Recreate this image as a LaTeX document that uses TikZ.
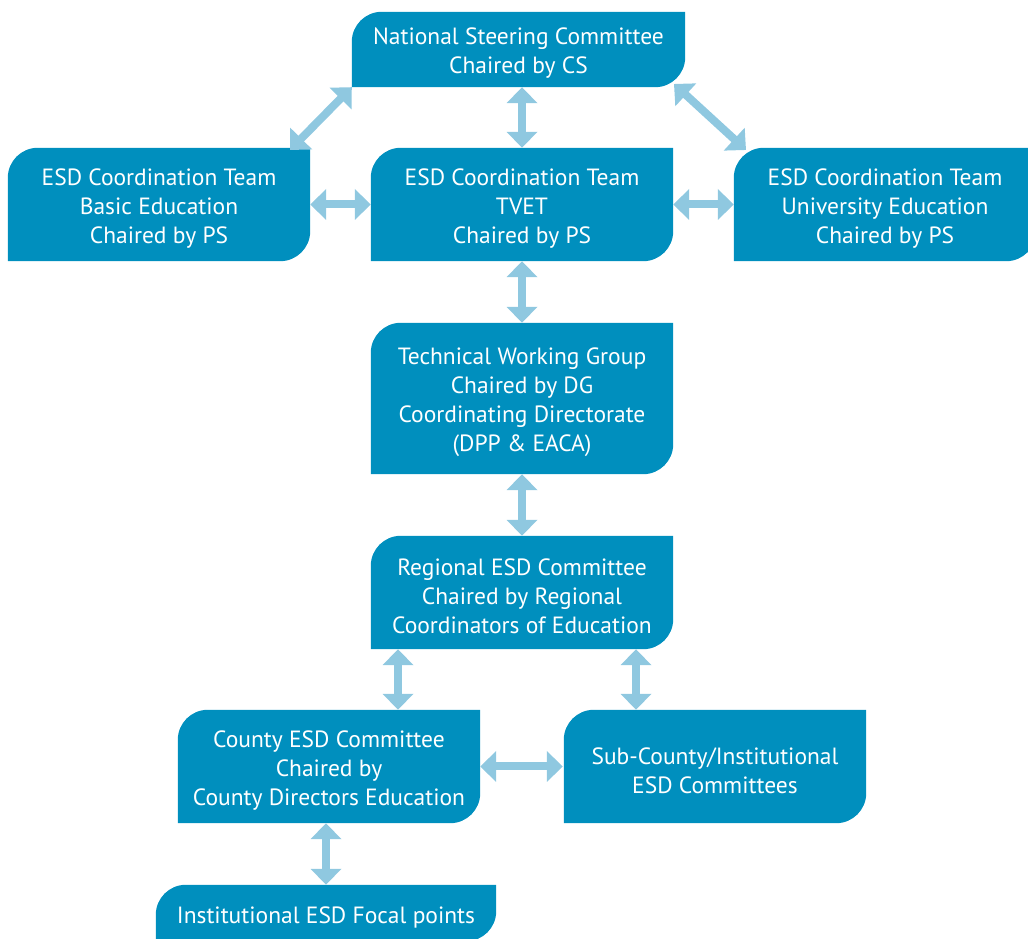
\documentclass[tikz,border=0pt]{standalone}
\usepackage{fontspec}
\setmainfont{PT Sans}
\usetikzlibrary{arrows.meta}
\pgfdeclarelayer{background}
\pgfsetlayers{background,main}
\definecolor{boxc}{RGB}{0,143,190}
\definecolor{arrc}{RGB}{143,200,224}
\tikzset{
  box/.style={inner sep=0pt},
  txt/.style={inner sep=0pt, align=center, text=white,
    font=\fontsize{23.5}{29}\selectfont},
  link/.style={draw=arrc, line width=8pt,
    {Triangle[width=30pt,length=16pt]}-{Triangle[width=30pt,length=16pt]}, arrc}
}
\newcommand{\leafbox}[1]{%
  \fill[boxc] (#1.south west) -- ([yshift=-30pt]#1.north west)
    arc[start angle=180,end angle=90,radius=30pt] -- (#1.north east)
    -- ([yshift=30pt]#1.south east)
    arc[start angle=0,end angle=-90,radius=30pt] -- cycle;}
% \orgbox{name}{x}{y}{width}{height}{text}
\newcommand{\orgbox}[6]{%
  \node[box, minimum width=#4pt, minimum height=#5pt] (#1) at (#2,#3) {};
  \node[txt] (#1-t) at ([yshift=-4pt]#1.center) {#6};}
\begin{document}
\begin{tikzpicture}[x=1pt,y=1pt]
\useasboundingbox (0,0) rectangle (1028,939);
\clip (0,0) rectangle (1028,939);
\orgbox{nsc}{518.5}{889.5}{333}{75}{National Steering Committee\\Chaired by CS}
\orgbox{basic}{159}{734.5}{302}{113}{ESD Coordination Team\\Basic Education\\Chaired by PS}
\orgbox{tvet}{522}{734.5}{302}{113}{ESD Coordination Team\\TVET\\Chaired by PS}
\orgbox{univ}{885}{734.5}{302}{113}{ESD Coordination Team\\University Education\\Chaired by PS}
\orgbox{twg}{522}{540.5}{302}{151}{Technical Working Group\\Chaired by DG\\Coordinating Directorate\\(DPP \& EACA)}
\orgbox{reg}{522}{346.5}{302}{113}{Regional ESD Committee\\Chaired by Regional\\Coordinators of Education}
\orgbox{county}{329}{172.5}{302}{113}{County ESD Committee\\Chaired by\\County Directors Education}
\orgbox{sub}{715}{172.5}{302}{113}{Sub-County/Institutional\\ESD Committees}
\orgbox{inst}{326}{26}{340}{56}{Institutional ESD Focal points}
\begin{pgfonlayer}{background}
\foreach \n in {nsc,basic,tvet,univ,twg,reg,county,sub,inst} {\leafbox{\n}}
\end{pgfonlayer}
% diagonal end points
\coordinate (bl) at (290,789);
\coordinate (ur) at (746,789);
\coordinate (nscr) at (674,855);
\draw[link] (nsc.south west) -- (bl);
\draw[link] (nscr) -- (ur);
\draw[link] (nsc.south -| tvet.north) -- (tvet.north);
\draw[link] (basic.east) -- (tvet.west);
\draw[link] (tvet.east) -- (univ.west);
\draw[link] (tvet.south) -- (twg.north);
\draw[link] (twg.south) -- (reg.north);
\draw[link] (reg.south -| 398,0) -- (county.north -| 398,0);
\draw[link] (reg.south -| 636,0) -- (sub.north -| 636,0);
\draw[link] (county.east) -- ([xshift=-1pt]sub.west);
\draw[link] (county.south -| inst.north) -- (inst.north);
\end{tikzpicture}
\end{document}
